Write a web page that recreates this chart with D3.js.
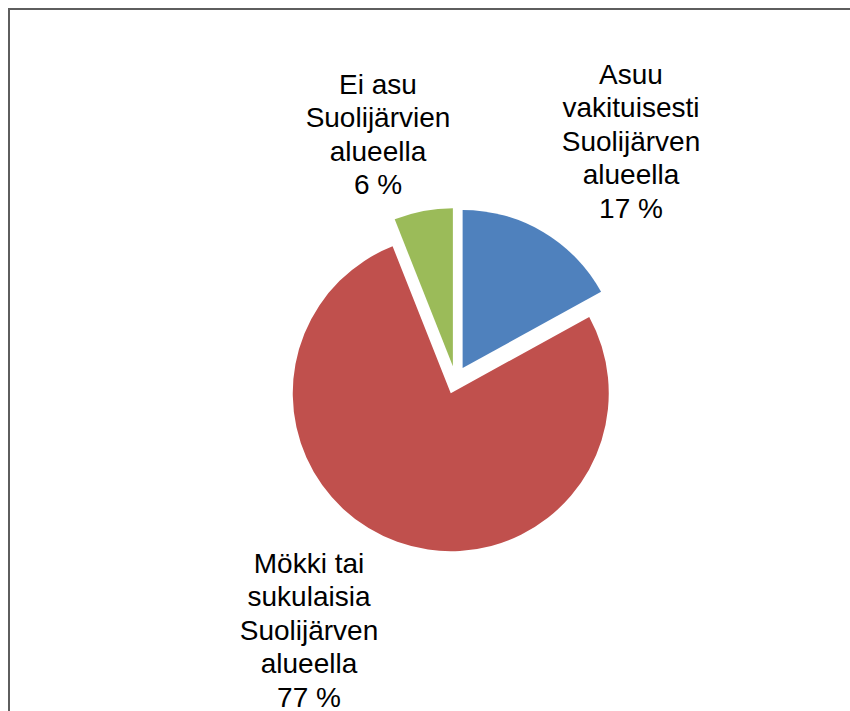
<!DOCTYPE html>
<html>
<head>
<meta charset="utf-8">
<title>Suolijärvi pie</title>
<script src="https://d3js.org/d3.v7.min.js"></script>
<style>
body, html {
  margin: 0;
  padding: 0;
  background: #fff;
}
svg {
  display: block;
}
</style>
</head>
<body>
<svg id="chart" width="850" height="711"></svg>
<script>

// data
const categories = [
  ["Asuu", "vakituisesti", "Suolijärven", "alueella"],
  ["Mökki tai", "sukulaisia", "Suolijärven", "alueella"],
  ["Ei asu", "Suolijärvien", "alueella"]
];
const values = [17, 77, 6];
const colors = ["#4f81bd", "#c0504d", "#9bbb59"];

// label anchor (centre x, first baseline y) for each slice
const labelPos = [[631, 84], [309, 573], [378, 94]];

const svg = d3.select("#chart");

// chart area frame (right/bottom edges fall outside the picture)
svg.append("rect")
  .attr("x", 9).attr("y", 9)
  .attr("width", 900).attr("height", 800)
  .attr("fill", "none")
  .attr("stroke", "#5e5e5e")
  .attr("stroke-width", 2);

// every slice is pulled out a little from the common centre
const cx = 455.5, cy = 380, radius = 158, explode = 14;

const pie = d3.pie().sort(null).value(d => d);
const arc = d3.arc().innerRadius(0).outerRadius(radius);

const g = svg.append("g")
  .attr("transform", "translate(" + cx + "," + cy + ")");

g.selectAll("path")
  .data(pie(values))
  .join("path")
  .attr("d", arc)
  .attr("fill", (d, i) => colors[i])
  .attr("transform", function(d) {
    const a = (d.startAngle + d.endAngle) / 2;
    return "translate(" + (Math.sin(a) * explode) + "," + (-Math.cos(a) * explode) + ")";
  });

// labels
const lineH = 33.4;
values.forEach(function(v, i) {
  const lines = categories[i].concat([v + " %"]);
  const t = svg.append("text")
    .attr("text-anchor", "middle")
    .attr("font-family", "Arial, 'Liberation Sans', sans-serif")
    .attr("font-size", "28px")
    .attr("fill", "#000");
  lines.forEach(function(s, k) {
    t.append("tspan")
      .attr("x", labelPos[i][0])
      .attr("y", labelPos[i][1] + k * lineH)
      .text(s);
  });
});

</script>
</body>
</html>
